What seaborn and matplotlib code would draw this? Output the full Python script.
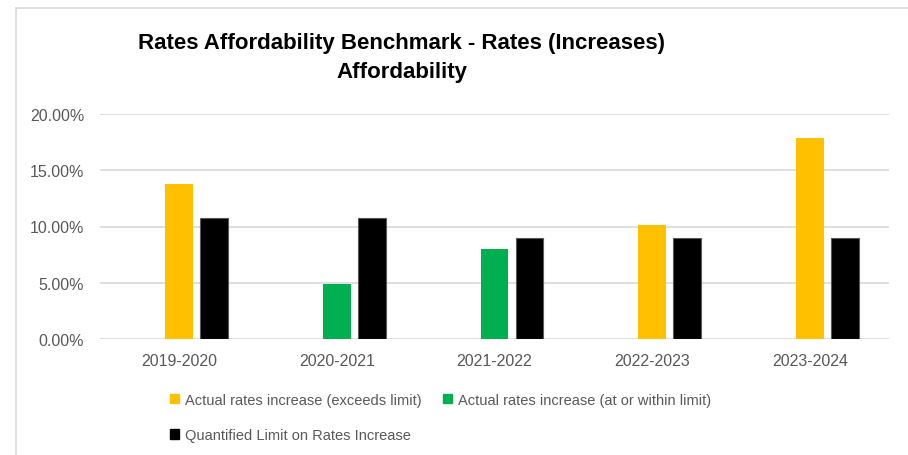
import numpy as np
import pandas as pd
import matplotlib
matplotlib.use("Agg")
import matplotlib.pyplot as plt
from matplotlib.patches import Rectangle, Patch
from matplotlib.ticker import PercentFormatter
import seaborn as sns

# ---- data ----
years = ["2019-2020", "2020-2021", "2021-2022", "2022-2023", "2023-2024"]
actual_increase = [13.8, 4.85, 8.0, 10.1, 17.9]
limit_increase = [10.75, 10.75, 8.95, 8.95, 8.95]
status = ["exceeds", "within", "within", "exceeds", "exceeds"]
legend_labels = {
    "exceeds": "Actual rates increase (exceeds limit)",
    "within": "Actual rates increase (at or within limit)",
    "limit": "Quantified Limit on Rates Increase",
}
colors = {"exceeds": "#FFC000", "within": "#00B050", "limit": "#000000"}

sns.set_theme(style="white")
plt.rcParams["font.family"] = ["Liberation Sans", "DejaVu Sans"]

fig = plt.figure(figsize=(9.08, 4.56), dpi=100)
W, H = 908, 456
ax = fig.add_axes([100 / W, 1 - 339.7 / H, (889 - 100) / W, (339.7 - 115.3) / H])

pos = np.arange(len(years))
bar_w = 0.177
offset = 0.222

df_actual = pd.DataFrame({"pos": pos, "value": actual_increase, "status": status})
df_limit = pd.DataFrame({"pos": pos + offset, "value": limit_increase})

sns.barplot(data=df_actual, x="pos", y="value", hue="status", palette=colors,
            hue_order=["exceeds", "within"], dodge=False, native_scale=True,
            width=bar_w, ax=ax, legend=False, linewidth=0, saturation=1)
sns.barplot(data=df_limit, x="pos", y="value", color=colors["limit"],
            native_scale=True, width=bar_w, ax=ax, linewidth=0.8,
            edgecolor="#595959", saturation=1)

ax.set_xlim(-0.5, len(years) - 0.5)
ax.set_ylim(0, 20)
ax.set_yticks([0, 5, 10, 15, 20])
ax.yaxis.set_major_formatter(PercentFormatter(decimals=2))
ax.set_xticks(pos)
ax.set_xticklabels(years)
ax.set_xlabel("")
ax.set_ylabel("")
ax.grid(axis="y", color="#d9d9d9", linewidth=1.2)
ax.set_axisbelow(True)
for s in ax.spines.values():
    s.set_visible(False)
ax.tick_params(axis="both", length=0, labelsize=11.5, colors="#595959")
ax.tick_params(axis="y", pad=11.5)
ax.tick_params(axis="x", pad=10)

fig.text(402 / W, 1 - 58 / H,
         "Rates Affordability Benchmark - Rates (Increases)\nAffordability",
         ha="center", va="center", fontsize=16, fontweight="bold",
         color="black", linespacing=1.5)

handles = [Patch(color=colors["exceeds"]), Patch(color=colors["limit"]),
           Patch(color=colors["within"])]
labels = [legend_labels["exceeds"], legend_labels["limit"], legend_labels["within"]]
fig.legend(handles, labels, ncol=2, loc="upper left",
           bbox_to_anchor=(170 / W, 1 - 394 / H), frameon=False,
           fontsize=10.5, handlelength=0.6, handleheight=0.6, handletextpad=0.4,
           columnspacing=1.5, labelspacing=1.45, labelcolor="#595959",
           borderaxespad=0, borderpad=0)

fig.add_artist(Rectangle((16 / W, -0.1), 1.2, (1 - 9 / H) + 0.1,
                         transform=fig.transFigure, fill=False,
                         edgecolor="#d9d9d9", linewidth=1.2))

fig.savefig("out.png", dpi=100)
